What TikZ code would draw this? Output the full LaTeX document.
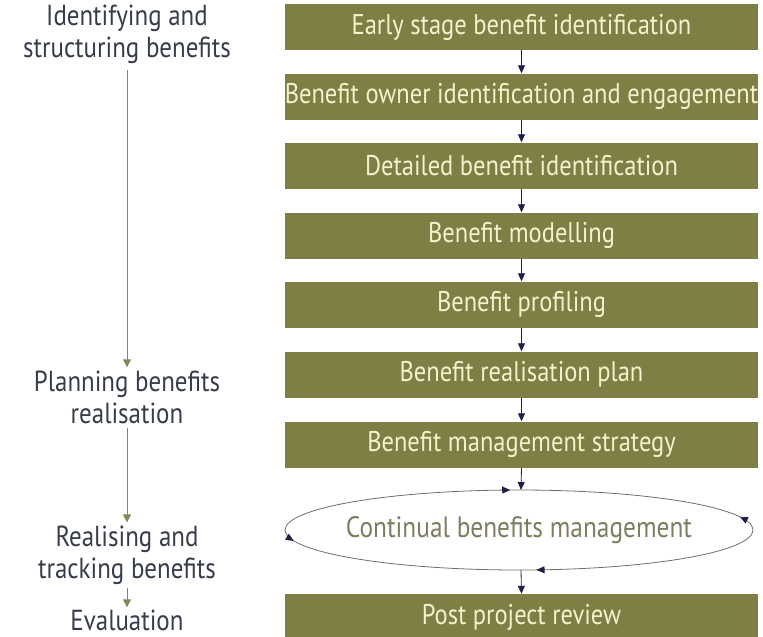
\documentclass[tikz,border=0pt]{standalone}
\usepackage{fontspec}
\setmainfont{PT Sans}[FakeStretch=0.86]
\usetikzlibrary{arrows.meta,decorations.markings}
\definecolor{boxolive}{RGB}{127,126,69}
\definecolor{boxcream}{RGB}{244,241,205}
\definecolor{navyarrow}{RGB}{30,32,72}
\definecolor{leftolive}{RGB}{135,135,85}
\definecolor{leftgray}{RGB}{55,60,75}
\definecolor{ellgray}{RGB}{125,125,95}
\definecolor{elline}{RGB}{110,110,100}
\begin{document}
\begin{tikzpicture}[x=1pt,y=-1pt,
  stagebox/.style={fill=boxolive,text=boxcream,minimum width=473pt,minimum height=46pt,
    inner sep=0pt,font=\fontsize{28.5}{32}\selectfont},
  phase/.style={text=leftgray,align=center,inner sep=0pt,font=\fontsize{29}{32}\selectfont},
  flow/.style={navyarrow,line width=0.8pt,-{Triangle[width=7pt,length=8pt]}},
  phaseflow/.style={leftolive,line width=0.9pt,-{Triangle[width=8pt,length=8pt]}}]
  \useasboundingbox (0,0) rectangle (763,637);
  % stages
  \node[stagebox] (s1) at (521.5,27)  {Early stage benefit identification};
  \node[stagebox] (s2) at (521.5,96.5) {Benefit owner identification and engagement};
  \node[stagebox] (s3) at (521.5,165.5) {Detailed benefit identification};
  \node[stagebox] (s4) at (521.5,235.5) {Benefit modelling};
  \node[stagebox] (s5) at (521.5,304.5) {Benefit profiling};
  \node[stagebox] (s6) at (521.5,374.5) {Benefit realisation plan};
  \node[stagebox] (s7) at (521.5,444.5) {Benefit management strategy};
  \node[text=ellgray,font=\fontsize{29.5}{32}\selectfont] (cbm) at (519,530) {Continual benefits management};
  \node[stagebox] (s8) at (521.5,617) {Post project review};
  % the loop
  \draw[elline,line width=0.8pt,postaction={decorate},decoration={markings,
      mark=at position 0.02 with {\arrow[navyarrow]{Triangle[width=7pt,length=8pt]}},
      mark=at position 0.259 with {\arrowreversed[navyarrow]{Triangle[width=7pt,length=8pt]}},
      mark=at position 0.515 with {\arrow[navyarrow]{Triangle[width=7pt,length=8pt]}},
      mark=at position 0.768 with {\arrowreversed[navyarrow]{Triangle[width=7pt,length=8pt]}}}]
    (cbm.center) ellipse [x radius=234pt,y radius=40pt];
  \coordinate (looptop) at (521,490);
  \coordinate (loopbot) at (521,570);
  \foreach \a/\b in {s1/s2,s2/s3,s3/s4,s4/s5,s5/s6,s6/s7}
    \draw[flow] (\a) -- (\b);
  \draw[flow] (s7.south) -- (looptop);
  \draw[flow] (loopbot) -- (s8.north);
  % phases
  \node[phase] (p1) at (127,34) {Identifying and\\structuring benefits};
  \node[phase] (p2) at (127,397) {Planning benefits\\realisation};
  \node[phase] (p3) at (127,555) {Realising and\\tracking benefits};
  \node[phase] (p4) at (127,620) {Evaluation};
  \draw[phaseflow] (p1.south) ++(0,6) -- ([yshift=3pt]p2.north);
  \draw[phaseflow] ([yshift=-4pt]p2.south) -- ([yshift=3pt]p3.north);
  \draw[phaseflow] ([yshift=-3pt]p3.south) -- ([yshift=2pt]p4.north);
\end{tikzpicture}
\end{document}
